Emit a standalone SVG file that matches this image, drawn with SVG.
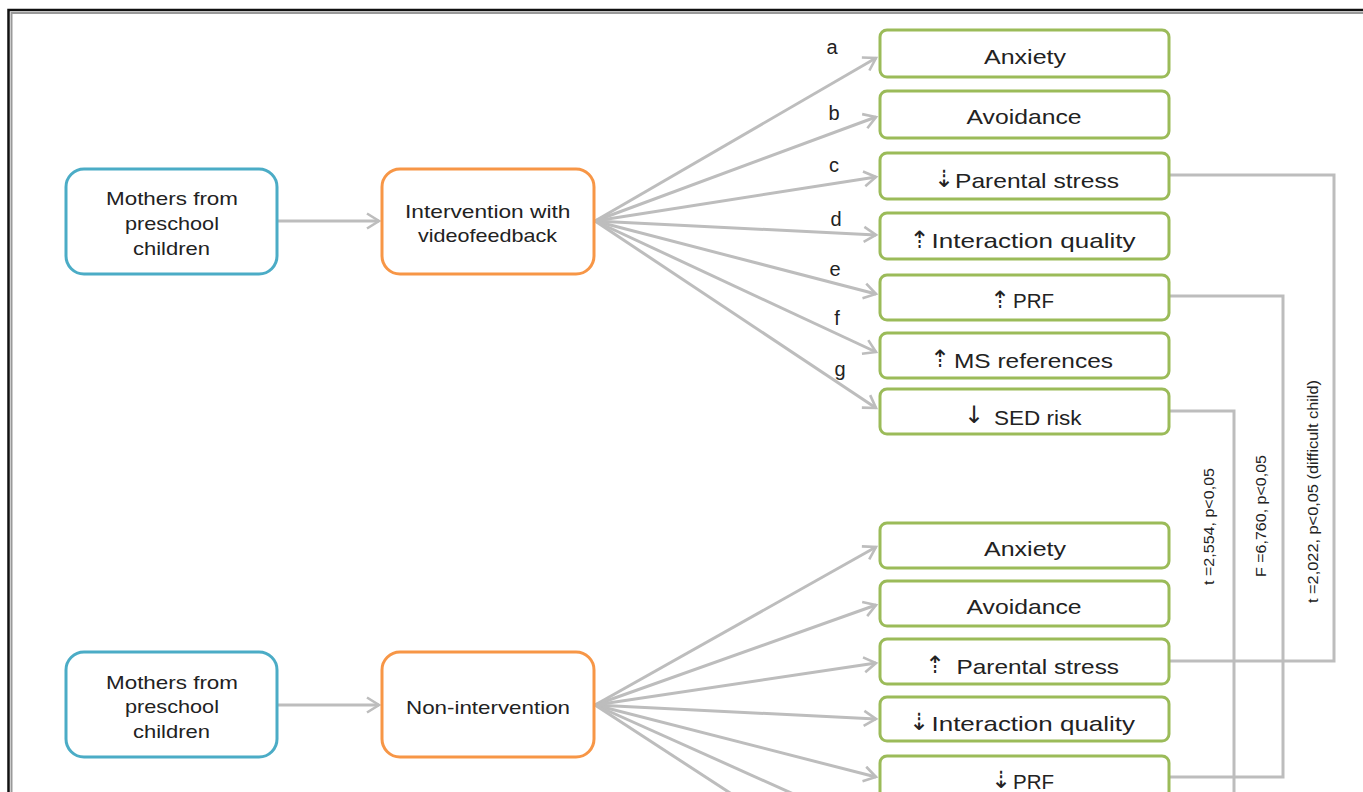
<svg xmlns="http://www.w3.org/2000/svg" width="1363" height="792" viewBox="0 0 1363 792">
<defs>
<style>
.t{font-family:"Liberation Sans",Arial,sans-serif;fill:#222;}
.lbl{font-size:21px;}
.src{font-size:19px;}
.let{font-size:20px;}
.stat{font-size:14px;}
.sym{font-family:"DejaVu Sans",sans-serif;font-size:24px;fill:#222;}
.blue{fill:#fff;stroke:#4bacc6;stroke-width:3;}
.orange{fill:#fff;stroke:#f79646;stroke-width:3;}
.green{fill:#fff;stroke:#9bbb59;stroke-width:3;}
.con{fill:none;stroke:#bdbdbd;stroke-width:3;}
.arr{fill:none;stroke:#bdbdbd;stroke-width:3;marker-end:url(#ah);}
</style>
<marker id="ah" markerUnits="userSpaceOnUse" markerWidth="16" markerHeight="18" refX="13" refY="9" orient="auto">
<path d="M1,1.5 L13,9 L1,16.5" fill="none" stroke="#bdbdbd" stroke-width="2.6"/>
</marker>
</defs>
<rect width="1363" height="792" fill="#fff"/>
<g id="frame">
<path d="M8.5,792 V10 H1363" fill="none" stroke="#111" stroke-width="2.5"/>
<path d="M11.5,792 V13 H1363" fill="none" stroke="#999" stroke-width="2"/>
</g>

<g id="connectors">
<line class="arr" x1="278" y1="221" x2="379" y2="221"/>
<line class="arr" x1="595" y1="221" x2="876" y2="58"/>
<line class="arr" x1="595" y1="221" x2="876" y2="117"/>
<line class="arr" x1="595" y1="221" x2="876" y2="177"/>
<line class="arr" x1="595" y1="221" x2="876" y2="235"/>
<line class="arr" x1="595" y1="221" x2="876" y2="294"/>
<line class="arr" x1="595" y1="221" x2="876" y2="352"/>
<line class="arr" x1="595" y1="221" x2="876" y2="408"/>

<line class="arr" x1="278" y1="705" x2="379" y2="705"/>
<line class="arr" x1="595" y1="705" x2="876" y2="547"/>
<line class="arr" x1="595" y1="705" x2="876" y2="605"/>
<line class="arr" x1="595" y1="705" x2="876" y2="663"/>
<line class="arr" x1="595" y1="705" x2="876" y2="719"/>
<line class="arr" x1="595" y1="705" x2="876" y2="777"/>
<line class="arr" x1="595" y1="705" x2="876" y2="831"/>
<line class="arr" x1="595" y1="705" x2="876" y2="888"/>

<polyline class="con" points="1169,175 1334,175 1334,661 1169,661"/>
<polyline class="con" points="1169,296 1283,296 1283,777 1169,777"/>
<polyline class="con" points="1169,411 1234,411 1234,800"/>

<text class="t let" x="832" y="54" text-anchor="middle">a</text>
<text class="t let" x="834" y="120" text-anchor="middle">b</text>
<text class="t let" x="834" y="172" text-anchor="middle">c</text>
<text class="t let" x="836" y="226" text-anchor="middle">d</text>
<text class="t let" x="835" y="276" text-anchor="middle">e</text>
<text class="t let" x="837" y="325" text-anchor="middle">f</text>
<text class="t let" x="840" y="376" text-anchor="middle">g</text>

<text class="t stat" transform="translate(1214,585) rotate(-90)" textLength="117" lengthAdjust="spacingAndGlyphs">t =2,554, p&lt;0,05</text>
<text class="t stat" transform="translate(1266,577) rotate(-90)" textLength="122" lengthAdjust="spacingAndGlyphs">F =6,760, p&lt;0,05</text>
<text class="t stat" transform="translate(1318,603) rotate(-90)" textLength="223" lengthAdjust="spacingAndGlyphs">t =2,022, p&lt;0,05 (difficult child)</text>
</g>

<g id="src1">
<rect class="blue" x="66" y="169" width="211" height="105" rx="18"/>
<text class="t src" x="106" y="205" textLength="132" lengthAdjust="spacingAndGlyphs">Mothers from</text>
<text class="t src" x="125" y="230" textLength="94" lengthAdjust="spacingAndGlyphs">preschool</text>
<text class="t src" x="133" y="255" textLength="77" lengthAdjust="spacingAndGlyphs">children</text>
</g>
<g id="int1">
<rect class="orange" x="382" y="169" width="212" height="105" rx="18"/>
<text class="t src" x="405" y="218" textLength="165.5" lengthAdjust="spacingAndGlyphs">Intervention with</text>
<text class="t src" x="418" y="242" textLength="139" lengthAdjust="spacingAndGlyphs">videofeedback</text>
</g>
<g id="src2">
<rect class="blue" x="66" y="652" width="211" height="105" rx="18"/>
<text class="t src" x="106" y="689" textLength="132" lengthAdjust="spacingAndGlyphs">Mothers from</text>
<text class="t src" x="125" y="713" textLength="94" lengthAdjust="spacingAndGlyphs">preschool</text>
<text class="t src" x="133" y="738" textLength="77" lengthAdjust="spacingAndGlyphs">children</text>
</g>
<g id="int2">
<rect class="orange" x="382" y="652" width="212" height="105" rx="18"/>
<text class="t src" x="406" y="714" textLength="164" lengthAdjust="spacingAndGlyphs">Non-intervention</text>
</g>

<g id="o1-anxiety">
<rect class="green" x="880" y="30" width="289" height="47" rx="7"/>
<text class="t lbl" x="984" y="64" textLength="82" lengthAdjust="spacingAndGlyphs">Anxiety</text>
</g>
<g id="o1-avoidance">
<rect class="green" x="880" y="91" width="289" height="47" rx="7"/>
<text class="t lbl" x="966.5" y="124" textLength="115" lengthAdjust="spacingAndGlyphs">Avoidance</text>
</g>
<g id="o1-stress">
<rect class="green" x="880" y="153" width="289" height="46" rx="7"/>
<text class="sym" x="944" y="187" text-anchor="middle">⇣</text>
<text class="t lbl" x="955" y="188" textLength="164" lengthAdjust="spacingAndGlyphs">Parental stress</text>
</g>
<g id="o1-interaction">
<rect class="green" x="880" y="213" width="289" height="46" rx="7"/>
<text class="sym" x="919.5" y="248" text-anchor="middle">⇡</text>
<text class="t lbl" x="931.5" y="248" textLength="204" lengthAdjust="spacingAndGlyphs">Interaction quality</text>
</g>
<g id="o1-prf">
<rect class="green" x="880" y="275" width="289" height="45" rx="7"/>
<text class="sym" x="1000" y="308" text-anchor="middle">⇡</text>
<text class="t lbl" x="1013" y="308" textLength="41" lengthAdjust="spacingAndGlyphs">PRF</text>
</g>
<g id="o1-ms">
<rect class="green" x="880" y="333" width="289" height="45" rx="7"/>
<text class="sym" x="940" y="367" text-anchor="middle">⇡</text>
<text class="t lbl" x="954" y="368" textLength="159" lengthAdjust="spacingAndGlyphs">MS references</text>
</g>
<g id="o1-sed">
<rect class="green" x="880" y="389" width="289" height="45" rx="7"/>
<text class="sym" x="974" y="423" text-anchor="middle">↓</text>
<text class="t lbl" x="994" y="425" textLength="87.5" lengthAdjust="spacingAndGlyphs">SED risk</text>
</g>

<g id="o2-anxiety">
<rect class="green" x="880" y="523" width="289" height="45" rx="7"/>
<text class="t lbl" x="984" y="556" textLength="82" lengthAdjust="spacingAndGlyphs">Anxiety</text>
</g>
<g id="o2-avoidance">
<rect class="green" x="880" y="581" width="289" height="45" rx="7"/>
<text class="t lbl" x="966.5" y="614" textLength="115" lengthAdjust="spacingAndGlyphs">Avoidance</text>
</g>
<g id="o2-stress">
<rect class="green" x="880" y="639" width="289" height="45" rx="7"/>
<text class="sym" x="935" y="673" text-anchor="middle">⇡</text>
<text class="t lbl" x="956.5" y="674" textLength="162.5" lengthAdjust="spacingAndGlyphs">Parental stress</text>
</g>
<g id="o2-interaction">
<rect class="green" x="880" y="697" width="289" height="44" rx="7"/>
<text class="sym" x="919" y="730" text-anchor="middle">⇣</text>
<text class="t lbl" x="931.5" y="731" textLength="203.5" lengthAdjust="spacingAndGlyphs">Interaction quality</text>
</g>
<g id="o2-prf">
<rect class="green" x="880" y="756" width="289" height="45" rx="7"/>
<text class="sym" x="1001" y="788" text-anchor="middle">⇣</text>
<text class="t lbl" x="1013" y="789" textLength="41" lengthAdjust="spacingAndGlyphs">PRF</text>
</g>
</svg>
